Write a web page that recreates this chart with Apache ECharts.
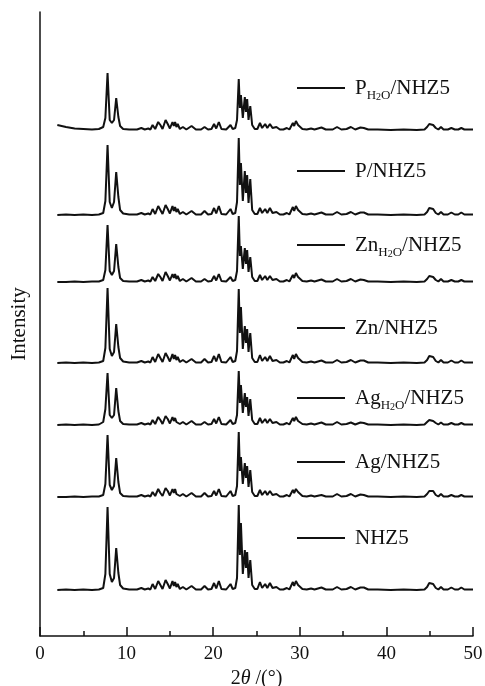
<!DOCTYPE html>
<html>
<head>
<meta charset="utf-8">
<script src="https://cdn.jsdelivr.net/npm/echarts@6/dist/echarts.min.js"></script>
<style>
  html, body { margin: 0; padding: 0; background: #fff; }
  #chart { width: 485px; height: 686px; }
</style>
</head>
<body>
<div id="chart"></div>
<script>
// 2θ sampling points (degrees) shared by every pattern
const twoTheta = [
  2.0, 3.0, 4.0, 5.0, 6.0, 6.8, 7.3,
  7.55, 7.8, 8.05, 8.3, 8.55, 8.8, 9.05,
  9.25, 9.6, 10.3, 11.2, 11.7, 12.1, 12.5, 12.75,
  13.0, 13.3, 13.65, 13.9, 14.15, 14.5, 14.75, 15.0,
  15.3, 15.45, 15.6, 15.75, 15.9, 16.15, 16.5, 16.9,
  17.5, 18.0, 18.6, 19.0, 19.4, 19.8, 20.1, 20.35,
  20.65, 20.95, 21.5, 22.0, 22.25, 22.55, 22.75,
  22.95, 23.08, 23.2, 23.42, 23.65, 23.78, 23.92, 24.08, 24.28,
  24.5, 24.8, 25.1, 25.4, 25.65, 26.0, 26.25, 26.55,
  26.85, 27.3, 27.7, 28.1, 28.5, 28.8, 29.2, 29.35,
  29.55, 29.8, 30.0, 30.3, 30.8, 31.3, 31.7, 32.5,
  33.0, 33.8, 34.3, 34.8, 35.4, 35.9, 36.4, 37.0,
  37.4, 37.9, 39.0, 40.5, 42.0, 43.5, 44.4, 44.7,
  44.95, 45.15, 45.4, 45.7, 46.0, 46.3, 46.6, 47.1,
  47.5, 47.9, 48.3, 48.65, 49.0, 49.5, 50.0
];

// Diffracted intensity (a.u.) above each pattern's own baseline
const intNHZ5 = [
  0, 0.5, 0, 0.5, 0, 0.5, 2,
  16, 83, 16, 8, 12, 42, 17,
  5, 1.5, 0.5, 0.5, 2, 0.5, 1.5, 0.5,
  6, 1, 9, 5, 1, 10, 6, 1.5,
  9, 4, 8, 3, 6, 1, 3, 0.5,
  4, 0.5, 0.5, 4, 0.5, 1, 7, 1.5,
  9, 1, 0.5, 6, 1, 2, 12,
  85, 35, 67, 16, 40, 22, 38, 12, 30,
  5, 1, 1, 8, 2, 6, 2, 7,
  2, 3, 0.5, 0.5, 2, 0.5, 8, 4,
  9, 5, 6, 1, 0.5, 1.5, 0.5, 2.5,
  0.5, 0.5, 3, 0.5, 1, 3, 0.5, 2.5,
  2.5, 0.5, 0.5, 0, 0.5, 0, 0.5, 3,
  7, 5, 6, 2, 0.5, 3, 0.5, 0.5,
  2.5, 0.5, 0.5, 2.5, 0.5, 0.5, 0.5
];
const intAg = [
  0, 0, 0.5, 0, 0.5, 0.5, 2,
  13, 62, 12, 7, 11, 39, 15,
  4, 1, 0.5, 0.5, 2, 0.5, 1.5, 0.5,
  5, 1, 8, 4, 1, 9, 6, 1.5,
  8, 4, 8, 3, 5, 1, 3, 0.5,
  4, 0.5, 0.5, 4, 0.5, 1, 6, 1.5,
  8, 1, 0.5, 6, 1, 2, 11,
  65, 26, 40, 13, 34, 19, 31, 10, 27,
  5, 1, 1, 7, 2, 6, 2, 6,
  2, 3, 0.5, 0.5, 2, 0.5, 7, 4,
  8, 5, 6, 1, 0.5, 1.5, 0.5, 2,
  0.5, 0.5, 3, 0.5, 1, 3, 0.5, 2.5,
  2, 0.5, 0.5, 0, 0.5, 0, 0.5, 3,
  6, 5, 6, 2, 0.5, 3, 0.5, 0.5,
  2, 0.5, 0.5, 2, 0.5, 0.5, 0.5
];
const intAgH2O = [
  0, 0.5, 0, 0.5, 0, 0.5, 3,
  16, 52, 10, 7, 10, 37, 14,
  4, 1, 0.5, 0.5, 2, 0.5, 1.5, 0.5,
  5, 1, 8, 5, 1, 9, 6, 1.5,
  8, 4, 7, 3, 5, 1, 3, 0.5,
  4, 0.5, 0.5, 3, 0.5, 1, 6, 1.5,
  8, 1, 0.5, 5, 1, 2, 10,
  54, 22, 40, 12, 32, 18, 28, 9, 26,
  5, 1, 1, 7, 2, 6, 2, 6,
  2, 3, 0.5, 0.5, 2, 0.5, 7, 4,
  8, 4, 5, 1, 0.5, 1.5, 0.5, 2.5,
  0.5, 0.5, 3, 0.5, 1, 2.5, 0.5, 2.5,
  2, 0.5, 0.5, 0, 0.5, 0, 0.5, 3,
  5, 5, 4, 2, 0.5, 2.5, 0.5, 0.5,
  2, 0.5, 0.5, 2, 0.5, 0.5, 0.5
];
const intZn = [
  0, 0.5, 0, 0.5, 0, 0.5, 2,
  15, 75, 14, 7, 11, 39, 16,
  5, 1.5, 0.5, 0.5, 2, 0.5, 1.5, 0.5,
  6, 1, 9, 5, 1, 10, 6, 1.5,
  9, 4, 8, 3, 6, 1, 3, 0.5,
  4, 0.5, 0.5, 4, 0.5, 1, 7, 1.5,
  9, 1, 0.5, 6, 1, 2, 12,
  74, 30, 56, 14, 37, 20, 34, 11, 30,
  5, 1, 1, 8, 2, 6, 2, 7,
  2, 3, 0.5, 0.5, 2, 0.5, 8, 4,
  9, 5, 6, 1, 0.5, 1.5, 0.5, 2.5,
  0.5, 0.5, 3, 0.5, 1, 3, 0.5, 2.5,
  2.5, 0.5, 0.5, 0, 0.5, 0, 0.5, 3,
  7, 5, 6, 2, 0.5, 3, 0.5, 0.5,
  2.5, 0.5, 0.5, 2.5, 0.5, 0.5, 0.5
];
const intZnH2O = [
  0, 0, 0.5, 0, 0.5, 0.5, 2,
  12, 57, 11, 7, 11, 38, 15,
  4, 1, 0.5, 0.5, 2, 0.5, 1.5, 0.5,
  5, 1, 8, 5, 1, 10, 6, 1.5,
  8, 4, 8, 3, 6, 1, 3, 0.5,
  4, 0.5, 0.5, 3, 0.5, 1, 6, 1.5,
  8, 1, 0.5, 5, 1, 2, 11,
  66, 26, 36, 13, 34, 18, 32, 10, 25,
  5, 1, 1, 7, 2, 6, 2, 6,
  2, 3, 0.5, 0.5, 2, 0.5, 7, 4,
  9, 5, 6, 1, 0.5, 1.5, 0.5, 2.5,
  0.5, 0.5, 3, 0.5, 1, 3, 0.5, 2.5,
  2, 0.5, 0.5, 0, 0.5, 0, 0.5, 3,
  6, 5, 5, 2, 0.5, 3, 0.5, 0.5,
  2, 0.5, 0.5, 2, 0.5, 0.5, 0.5
];
const intP = [
  0, 0.5, 0, 0.5, 0, 0.5, 2,
  14, 70, 13, 7, 13, 43, 18,
  5, 1.5, 0.5, 0.5, 2, 0.5, 1.5, 0.5,
  6, 1, 9, 5, 1, 10, 6, 1.5,
  9, 4, 8, 3, 6, 1, 3, 0.5,
  4, 0.5, 0.5, 4, 0.5, 1, 7, 1.5,
  9, 1, 0.5, 6, 1, 2, 13,
  77, 30, 52, 14, 44, 22, 40, 12, 36,
  5, 1, 1, 7, 2, 6, 2, 7,
  2, 3, 0.5, 0.5, 2, 0.5, 8, 4,
  9, 5, 6, 1, 0.5, 1.5, 0.5, 2.5,
  0.5, 0.5, 3, 0.5, 1, 3, 0.5, 2.5,
  2.5, 0.5, 0.5, 0, 0.5, 0, 0.5, 3,
  7, 5, 6, 2, 0.5, 3, 0.5, 0.5,
  2.5, 0.5, 0.5, 2.5, 0.5, 0.5, 0.5
];
const intPH2O = [
  5, 3, 1.5, 1, 0.5, 1, 3,
  12, 57, 10, 7, 10, 32, 13,
  4, 1, 0.5, 0.5, 2, 0.5, 1.5, 0.5,
  5, 1, 8, 5, 1, 10, 6, 1.5,
  8, 4, 8, 3, 6, 1, 3, 0.5,
  4, 0.5, 0.5, 3, 0.5, 1, 6, 1.5,
  8, 1, 0.5, 5, 1, 2, 10,
  51, 22, 35, 12, 33, 18, 31, 10, 24,
  5, 1, 1, 7, 2, 6, 2, 6,
  2, 3, 0.5, 0.5, 2, 0.5, 7, 4,
  9, 5, 6, 1, 0.5, 1.5, 0.5, 2.5,
  0.5, 0.5, 3, 0.5, 1, 3, 0.5, 2.5,
  2, 0.5, 0.5, 0, 0.5, 0, 0.5, 3,
  6, 5, 5, 2, 0.5, 3, 0.5, 0.5,
  2, 0.5, 0.5, 2, 0.5, 0.5, 0.5
];

// Samples, top to bottom, with their vertical stacking offsets (a.u.)
const sampleNames = ['PH2O/NHZ5', 'P/NHZ5', 'ZnH2O/NHZ5', 'Zn/NHZ5', 'AgH2O/NHZ5', 'Ag/NHZ5', 'NHZ5'];
const sampleLabels = [
  '{m|P}{s|H}{t|2}{s|O}{m|/NHZ5}',
  '{m|P/NHZ5}',
  '{m|Zn}{s|H}{t|2}{s|O}{m|/NHZ5}',
  '{m|Zn/NHZ5}',
  '{m|Ag}{s|H}{t|2}{s|O}{m|/NHZ5}',
  '{m|Ag/NHZ5}',
  '{m|NHZ5}'
];
const sampleIntensities = [intPH2O, intP, intZnH2O, intZn, intAgH2O, intAg, intNHZ5];
const stackOffsets = [506, 421, 354, 273, 211, 139, 46];
const xTicks = [0, 10, 20, 30, 40, 50];

const SERIF = '"Liberation Serif", "Times New Roman", serif';
const INK = '#111';
const legendRowY = [88, 171, 245, 328, 398, 462, 538];
const ROW_H = 28;

const richLabel = {
  m: { fontFamily: SERIF, fontSize: 21, color: INK, lineHeight: ROW_H, verticalAlign: 'middle' },
  s: { fontFamily: SERIF, fontSize: 13, color: INK, lineHeight: 12, verticalAlign: 'bottom' },
  t: { fontFamily: SERIF, fontSize: 10, color: INK, lineHeight: 3, verticalAlign: 'bottom' }
};

const series = sampleNames.map((name, k) => ({
  name: name,
  type: 'line',
  showSymbol: false,
  symbol: 'none',
  animation: false,
  color: INK,
  lineStyle: { color: INK, width: 2 },
  data: twoTheta.map((x, i) => [x, stackOffsets[k] + sampleIntensities[k][i]])
}));

const legends = sampleNames.map((name, k) => ({
  data: [name],
  left: 297,
  top: legendRowY[k] - ROW_H / 2,
  padding: 0,
  icon: 'rect',
  itemWidth: 48,
  itemHeight: 2,
  selectedMode: false,
  formatter: () => sampleLabels[k],
  textStyle: { color: INK, fontFamily: SERIF, fontSize: 21, lineHeight: ROW_H, padding: [0, 0, 0, 5], rich: richLabel }
}));

const chart = echarts.init(document.getElementById('chart'), null, { renderer: 'canvas' });
chart.setOption({
  backgroundColor: '#fff',
  animation: false,
  grid: { left: 40, right: 12, top: 12, bottom: 50, containLabel: false, outerBoundsMode: 'none' },
  legend: legends,
  xAxis: {
    type: 'value',
    min: xTicks[0],
    max: xTicks[xTicks.length - 1],
    interval: 10,
    name: '{a|2}{b|θ}{a| /(°)}',
    nameLocation: 'middle',
    nameGap: 33,
    nameTextStyle: {
      rich: {
        a: { fontFamily: SERIF, fontSize: 20, color: INK },
        b: { fontFamily: SERIF, fontSize: 20, color: INK, fontStyle: 'italic' }
      }
    },
    axisLine: { show: true, onZero: false, lineStyle: { color: INK, width: 1.5 } },
    axisTick: { show: true, inside: true, length: 9, lineStyle: { color: INK, width: 1.5 } },
    minorTick: { show: true, splitNumber: 2, length: 5, lineStyle: { color: INK, width: 1.5 } },
    axisLabel: { color: INK, fontFamily: SERIF, fontSize: 19, margin: 9 },
    splitLine: { show: false },
    minorSplitLine: { show: false }
  },
  yAxis: {
    type: 'value',
    min: 0,
    max: 624,
    name: 'Intensity',
    nameLocation: 'middle',
    nameGap: 10,
    nameTextStyle: { fontFamily: SERIF, fontSize: 21, color: INK },
    axisLine: { show: true, onZero: false, lineStyle: { color: INK, width: 1.5 } },
    axisTick: { show: false },
    axisLabel: { show: false },
    splitLine: { show: false }
  },
  series: series
});
</script>
</body>
</html>
